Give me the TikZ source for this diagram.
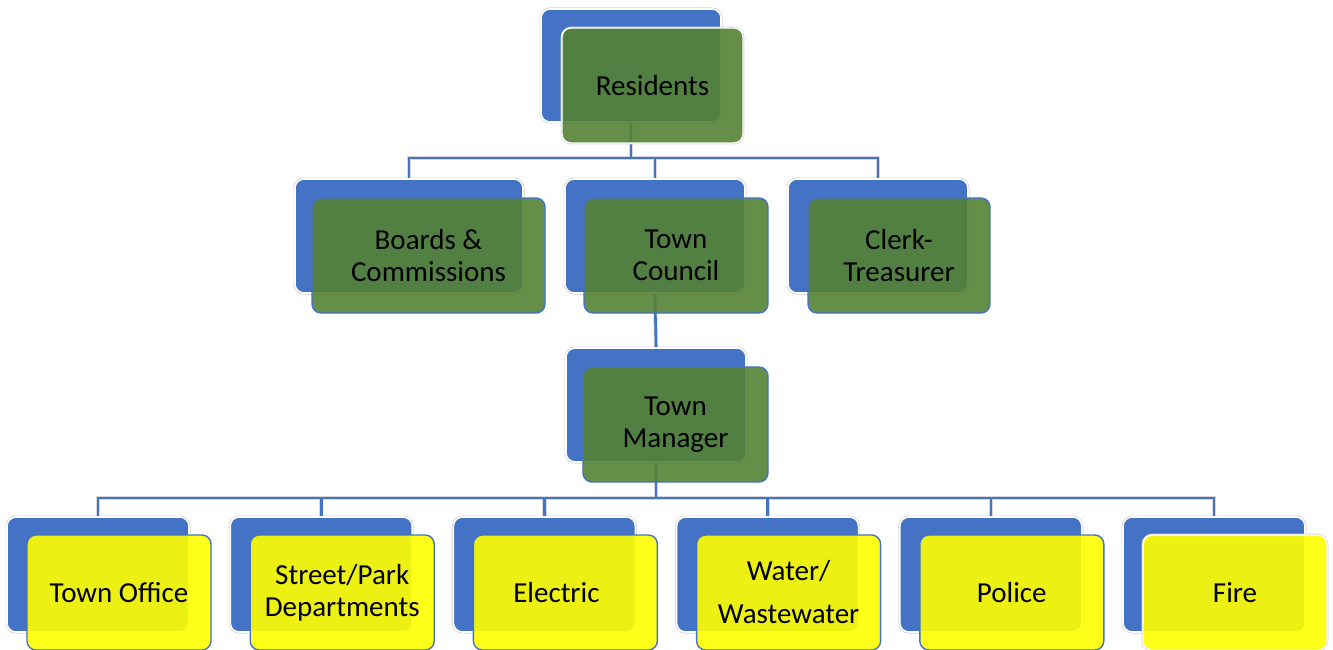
\documentclass[tikz,border=0pt]{standalone}
\usepackage{fontspec}
\setmainfont{Carlito}
\definecolor{ofblue}{HTML}{4472C4}
\definecolor{ofgreen}{HTML}{548235}
\definecolor{ofyellow}{HTML}{FFFF00}
\begin{document}
\begin{tikzpicture}[x=1pt,y=-1pt,
  backbox/.style={rectangle, rounded corners=9pt, fill=ofblue, draw=white, line width=1.6pt,
    preaction={draw=black!18, line width=3pt}, inner sep=0pt},
  frontbox/.style={rectangle, rounded corners=9pt, draw=ofblue, line width=1.4pt, fill opacity=0.9,
    text opacity=1, inner sep=0pt, align=center, font=\fontsize{29}{32}\selectfont, text=black},
  greenbox/.style={frontbox, fill=ofgreen},
  yellowbox/.style={frontbox, fill=ofyellow},
  whiteedge/.style={draw=white, preaction={draw=black!18, line width=2.6pt}},
  conn/.style={draw=ofblue, line width=2.6pt, preaction={draw=black!15, line width=4.2pt}},
]
\useasboundingbox (0,0) rectangle (1333,650);

% ---- back boxes ----
\node[backbox, minimum width=180pt, minimum height=113pt] (resB) at (631,65.5) {};
\node[backbox, minimum width=228pt, minimum height=114pt] (boB) at (409,236) {};
\node[backbox, minimum width=180pt, minimum height=114pt] (tcB) at (655,236) {};
\node[backbox, minimum width=180pt, minimum height=114pt] (ckB) at (878,236) {};
\node[backbox, minimum width=180pt, minimum height=114pt] (tmB) at (656,405) {};
\node[backbox, minimum width=182pt, minimum height=115pt] (b1B) at (98,574.5) {};
\node[backbox, minimum width=182pt, minimum height=115pt] (b2B) at (321.2,574.5) {};
\node[backbox, minimum width=182pt, minimum height=115pt] (b3B) at (544.4,574.5) {};
\node[backbox, minimum width=182pt, minimum height=115pt] (b4B) at (767.6,574.5) {};
\node[backbox, minimum width=182pt, minimum height=115pt] (b5B) at (990.8,574.5) {};
\node[backbox, minimum width=182pt, minimum height=115pt] (b6B) at (1214,574.5) {};

% ---- connectors ----
\coordinate (bus1) at (631,158);
\coordinate (bus2) at (656,498);
\draw[conn] (resB.south) -- (bus1)
  (bus1) -| (boB.north) (bus1) -| (tcB.north) (bus1) -| (ckB.north);
\draw[conn] (tcB.south) -- (tmB.north);
\draw[conn] (tmB.south) -- (bus2)
  (bus2) -| (b1B.north) (bus2) -| (b2B.north) (bus2) -| (b3B.north)
  (bus2) -| (b4B.north) (bus2) -| (b5B.north) (bus2) -| (b6B.north);

% ---- front boxes ----
\node[greenbox, whiteedge, minimum width=181pt, minimum height=115pt] (resF) at (652.5,85.5) {Residents};
\node[greenbox, minimum width=233pt, minimum height=115pt] (boF) at (428.5,255.5) {Boards \&\\Commissions};
\node[greenbox, minimum width=184pt, minimum height=115pt] (tcF) at (676,255.5) {Town\\Council};
\node[greenbox, minimum width=182pt, minimum height=115pt] (ckF) at (899,255.5) {Clerk-\\Treasurer};
\node[greenbox, minimum width=185pt, minimum height=115pt] (tmF) at (675.5,424.5) {Town\\Manager};
\node[yellowbox, minimum width=184pt, minimum height=115pt] (b1F) at (119,592.5) {Town Office};
\node[yellowbox, minimum width=184pt, minimum height=115pt] (b2F) at (342.2,592.5) {Street/Park\\Departments};
\node[yellowbox, minimum width=184pt, minimum height=115pt] (b3F) at (565.4,592.5) {\hspace*{-18pt}Electric};
\node[yellowbox, minimum width=184pt, minimum height=115pt] (b4F) at (788.6,592.5) {Water/\\[11pt]Wastewater};
\node[yellowbox, minimum width=184pt, minimum height=115pt] (b5F) at (1011.8,592.5) {Police};
\node[yellowbox, whiteedge, minimum width=184pt, minimum height=115pt] (b6F) at (1235,592.5) {Fire};
\end{tikzpicture}
\end{document}
